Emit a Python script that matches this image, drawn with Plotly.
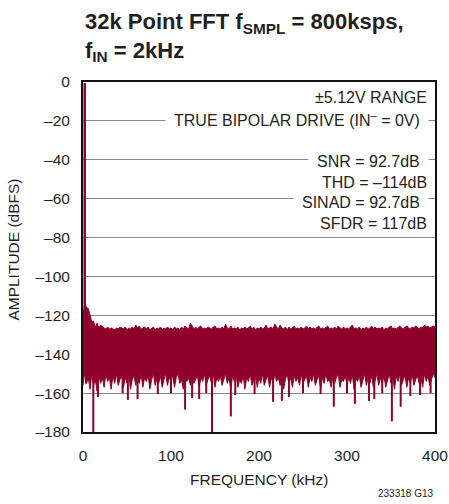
import plotly.graph_objects as go

# ---- data ----
tone_freq_khz = 2.0
tone_level_db = -0.5

# near-DC skirt (kHz, dB)
skirt_x = [0, 1, 2, 3]
skirt_top = [-120, -116, -114, -115]
skirt_bottom = [-156, -152, -150, -155]

# noise floor, 2 kHz spacing from 4 kHz to 400 kHz
noise_x = list(range(4, 401, 2))
noise_top = [
    -116, -116.5, -120, -123.5, -123, -126, -124, -126.5, -125, -126,
    -126.5, -127, -126, -127, -126.5, -127, -127.5, -126.5, -127, -126,
    -126.5, -127, -126, -127.5, -126.5, -127, -126, -127, -125, -126.5,
    -125.5, -127, -126.5, -126, -127, -126, -127.5, -126.5, -126, -127.5,
    -126.5, -127, -126, -127.5, -126.5, -127, -126, -127, -126.5, -127.5,
    -126, -127, -126.5, -127.5, -126, -127, -125.5, -126.5, -127, -124,
    -125.5, -127, -126, -127, -126, -125.5, -127, -126.5, -127, -126,
    -126.5, -127, -126, -125.5, -127, -126.5, -127, -126, -127, -124.5,
    -126.5, -127, -125.5, -127, -126.5, -127, -126, -127.5, -126.5, -127,
    -126, -127, -126.5, -125.5, -127, -126, -127.5, -126.5, -127, -126,
    -127, -126.5, -125, -127, -126.5, -126, -127, -124.5, -126, -127,
    -125, -126.5, -127, -126, -127.5, -126, -127, -126.5, -125.5, -127,
    -126.5, -127, -126, -127, -126.5, -125.5, -127, -126, -127, -126.5,
    -127, -126, -125.5, -127, -126.5, -127, -126, -125.5, -127, -126.5,
    -127, -126, -127, -125.5, -126.5, -127, -126, -127, -126.5, -127,
    -126, -125, -127, -126.5, -127, -126, -127.5, -126.5, -127, -126,
    -127, -126.5, -125.5, -127, -126, -127, -126.5, -127, -126, -127.5,
    -126.5, -127, -126, -125.5, -127, -126.5, -127, -126, -125.5, -126.5,
    -127, -126, -125.5, -126.5, -127, -126, -126.5, -125.5, -126.5, -127,
    -126, -126.5, -125, -126, -125.5, -126.5, -126, -125.5, -126,
]
noise_bottom = [
    -155, -152, -158, -150, -156, -153, -159, -151, -155, -152,
    -157, -150, -154, -152, -158, -151, -155, -150, -156, -153,
    -151, -157, -152, -155, -150, -158, -153, -151, -156, -152,
    -155, -150, -157, -152, -154, -151, -158, -153, -150, -156,
    -152, -155, -151, -157, -153, -150, -156, -152, -154, -151,
    -157, -152, -150, -155, -153, -158, -151, -154, -152, -156,
    -150, -155, -153, -151, -157, -152, -154, -150, -156, -153,
    -151, -155, -150, -157, -152, -154, -151, -156, -153, -150,
    -155, -152, -158, -151, -154, -150, -157, -153, -155, -151,
    -158, -152, -154, -150, -156, -153, -151, -157, -152, -155,
    -150, -156, -153, -151, -157, -152, -155, -150, -154, -152,
    -156, -151, -158, -153, -150, -155, -152, -157, -151, -154,
    -152, -156, -150, -155, -153, -151, -157, -152, -154, -150,
    -156, -153, -151, -158, -152, -155, -150, -154, -153, -157,
    -151, -155, -152, -150, -157, -153, -154, -151, -156, -152,
    -155, -150, -158, -152, -154, -151, -157, -153, -150, -156,
    -152, -155, -151, -157, -153, -150, -156, -152, -155, -151,
    -157, -153, -150, -155, -152, -158, -151, -154, -150, -156,
    -153, -151, -157, -152, -155, -150, -156, -153, -151, -155,
    -152, -157, -150, -154, -151, -156, -153, -150, -152,
]

# isolated deep bins (kHz, dB)
spike_x = [11.7, 17, 45, 51, 62, 85, 100, 116, 124, 132, 140, 146.6, 168, 173,
           195, 216, 226, 234, 250, 270, 285, 300, 309, 325, 331, 340, 351, 361,
           372, 383, 395]
spike_y = [-180, -162, -160, -163.5, -163, -160.5, -160, -168.5, -162.5, -163,
           -160, -180, -172, -161, -160.5, -164.5, -164, -162, -160, -160.5,
           -167, -160, -165.5, -164, -163, -160, -174.5, -167, -161.5, -161,
           -160]
spike_base = -150

x_ticks = [0, 100, 200, 300, 400]
y_ticks = [0, -20, -40, -60, -80, -100, -120, -140, -160, -180]
y_tick_text = ["0", "–20", "–40", "–60", "–80", "–100", "–120", "–140", "–160", "–180"]

spec_lines = [
    ("TRUE BIPOLAR DRIVE (IN<sup>–</sup> = 0V)", 0.893, True),
    ("SNR = 92.7dB", 0.774, True),
    ("SINAD = 92.7dB", 0.655, True),
    ("±5.12V RANGE", 0.957, False),
    ("THD = –114dB", 0.714, False),
    ("SFDR = 117dB", 0.597, False),
]

# ---- figure ----
RED = "#8f002a"
TXT = "#231f20"
FONT = "Liberation Sans, Arial, sans-serif"

top_x = skirt_x + noise_x
top_y = skirt_top + noise_top
bot_x = skirt_x + noise_x
bot_y = skirt_bottom + noise_bottom
poly_x = top_x + bot_x[::-1]
poly_y = top_y + bot_y[::-1]

fig = go.Figure()
fig.add_trace(go.Scatter(x=poly_x, y=poly_y, mode="lines", fill="toself",
                         fillcolor=RED, line=dict(color=RED, width=1),
                         hoverinfo="skip", showlegend=False))

sx, sy = [], []
for fx, fy in zip(spike_x, spike_y):
    sx += [fx, fx, None]
    sy += [spike_base, fy, None]
fig.add_trace(go.Scatter(x=sx, y=sy, mode="lines",
                         line=dict(color=RED, width=2),
                         hoverinfo="skip", showlegend=False))

fig.add_trace(go.Scatter(x=[tone_freq_khz, tone_freq_khz], y=[-150, tone_level_db],
                         mode="lines", line=dict(color=RED, width=2.5),
                         hoverinfo="skip", showlegend=False))

annotations = []
for text, yp, bg in spec_lines:
    a = dict(text=text, xref="paper", yref="paper", x=0.983, y=yp,
             xanchor="right", yanchor="middle", showarrow=False,
             font=dict(family=FONT, size=16, color=TXT))
    if bg:
        a.update(bgcolor="white", borderpad=8)
    annotations.append(a)

annotations.append(dict(
    text="<b>32k Point FFT f<sub>SMPL</sub> = 800ksps,<br>f<sub>IN</sub> = 2kHz</b>",
    xref="paper", yref="paper", x=0, y=1.215, xanchor="left", yanchor="top",
    align="left", showarrow=False, font=dict(family=FONT, size=22, color=TXT)))
annotations.append(dict(
    text="FREQUENCY (kHz)", xref="paper", yref="paper", x=0.5, y=-0.137,
    xanchor="center", yanchor="middle", showarrow=False,
    font=dict(family=FONT, size=15.5, color=TXT)))
annotations.append(dict(
    text="AMPLITUDE (dBFS)", xref="paper", yref="paper", x=-0.2, y=0.52,
    xanchor="center", yanchor="middle", showarrow=False, textangle=-90,
    font=dict(family=FONT, size=15.5, color=TXT)))
annotations.append(dict(
    text="233318 G13", xref="paper", yref="paper", x=1.0, y=-0.177,
    xanchor="right", yanchor="middle", showarrow=False,
    font=dict(family=FONT, size=10, color=TXT)))

fig.update_layout(
    width=449, height=504,
    margin=dict(l=83, r=14, t=82, b=72),
    paper_bgcolor="white", plot_bgcolor="white",
    showlegend=False,
    annotations=annotations,
    font=dict(family=FONT, color=TXT),
)
fig.update_xaxes(range=[0, 400], tickvals=x_ticks, showgrid=False, zeroline=False,
                 showline=True, mirror=True, linecolor="#111", linewidth=2,
                 ticks="", ticklabelstandoff=8, automargin=False,
                 tickfont=dict(family=FONT, size=15.5, color=TXT))
fig.update_yaxes(range=[-180, 0], tickvals=y_ticks, ticktext=y_tick_text,
                 showgrid=True, gridcolor="#8a8a8a", gridwidth=1.3, zeroline=False,
                 showline=True, mirror=True, linecolor="#111", linewidth=2,
                 ticks="", ticklabelstandoff=8, automargin=False,
                 tickfont=dict(family=FONT, size=15.5, color=TXT))

fig.write_html("out.html", config={"displayModeBar": False},
               post_script="document.body.style.margin='0';")
